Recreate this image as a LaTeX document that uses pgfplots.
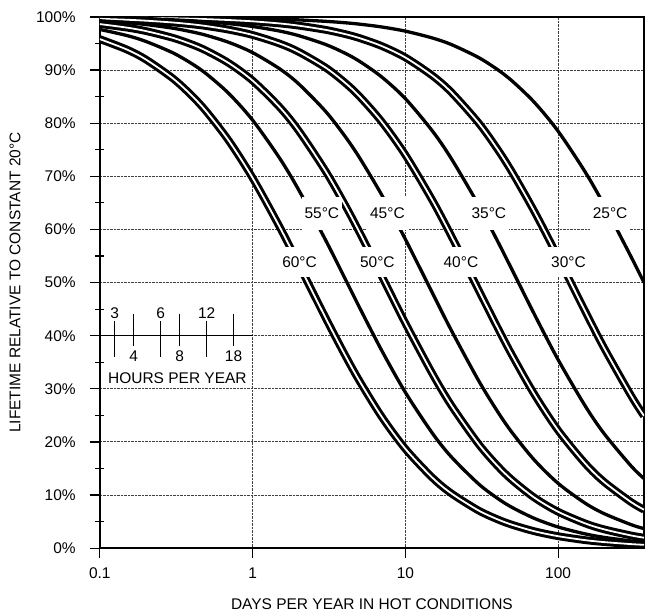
\documentclass[border=0pt]{standalone}
\usepackage{fontspec}
\setmainfont{Liberation Sans}
\usepackage{pgfplots}
\usepackage{pgfplotstable}
\pgfplotsset{compat=1.18}

\pgfplotstableread{
x     t25   t30   t35   t40   t45   t50   t55   t60
0.1   99.97 99.92 99.82 99.65 99.29 98.66 97.65 95.83
0.15  99.96 99.88 99.73 99.48 98.93 98.00 96.51 93.88
0.2   99.95 99.83 99.64 99.30 98.58 97.35 95.40 92.00
0.3   99.92 99.75 99.46 98.96 97.89 96.08 93.26 88.46
0.4   99.89 99.67 99.28 98.62 97.20 94.84 91.21 85.19
0.5   99.86 99.59 99.10 98.28 96.53 93.63 89.25 82.14
0.7   99.81 99.42 98.74 97.60 95.21 91.30 85.57 76.67
1     99.73 99.18 98.21 96.61 93.29 88.02 80.58 69.70
1.5   99.59 98.78 97.35 95.00 90.26 83.05 73.45 60.53
2     99.45 98.37 96.49 93.44 87.42 78.61 67.48 53.49
3     99.18 97.58 94.83 90.48 82.25 71.01 58.04 43.40
4     98.92 96.80 93.22 87.69 77.65 64.76 50.92 36.51
5     98.65 96.03 91.67 85.07 73.55 59.51 45.36 31.51
7     98.12 94.53 88.71 80.28 66.51 51.22 37.22 24.73
10    97.33 92.37 84.62 74.03 58.16 42.36 29.33 18.70
15    96.05 88.97 78.57 65.52 48.10 32.89 21.67 13.29
20    94.81 85.82 73.33 58.76 41.00 26.87 17.18 10.31
30    92.40 80.13 64.71 48.72 31.66 19.68 12.15 7.12
40    90.12 75.15 57.89 41.61 25.79 15.52 9.40  5.44
50    87.95 70.76 52.38 36.31 21.75 12.82 7.66  4.40
70    83.91 63.35 44.00 28.93 16.57 9.50  5.60  3.18
100   78.49 54.75 35.48 22.18 12.20 6.85  3.98  2.25
150   70.87 44.65 26.83 15.97 8.48  4.67  2.69  1.51
200   64.60 37.69 21.57 12.47 6.50  3.54  2.03  1.14
300   54.88 28.74 15.49 8.68  4.43  2.39  1.36  0.76
365   50.00 24.90 13.10 7.24  3.67  1.97  1.12  0.63
}\data

\begin{document}
\fontsize{15.5}{18}\selectfont
\begin{tikzpicture}
\useasboundingbox (-100pt,-66pt) rectangle (546pt,549pt);
\begin{axis}[
  xmode=log, log basis x=10,
  scale only axis, width=545pt, height=532pt,
  xmin=0.1, xmax=365, ymin=0, ymax=100,
  xtick={0.1,1,10,100}, xticklabels={0.1,1,10,100},
  ytick={0,10,...,100},
  yticklabels={0\%,10\%,20\%,30\%,40\%,50\%,60\%,70\%,80\%,90\%,100\%},
  minor ytick={5,15,...,95},
  /pgf/number format/assume math mode=true,
  tick pos=left, tick align=outside,
  major tick length=10pt, minor tick length=9pt,
  tick style={black, line width=1.2pt},
  minor x tick style={yshift=4.5pt},
  minor y tick style={xshift=4.5pt},
  axis line style={line width=1.4pt},
  xmajorgrids, ymajorgrids,
  grid style={densely dotted, line width=0.9pt, black!75},
  xlabel={DAYS PER YEAR IN HOT CONDITIONS},
  ylabel={LIFETIME RELATIVE TO CONSTANT 20°C},
  xlabel style={at={(axis description cs:0.5,-0.1062)}, anchor=center},
  ylabel style={at={(axis description cs:-0.156,0.5)}, anchor=center},
  xticklabel style={yshift=-4pt},
  yticklabel style={xshift=-8.8pt},
  single/.style={black, line width=3.3pt, smooth},
  dbl/.style={black, line width=3pt, double=white, double distance=1.8pt, smooth},
  hr/.style={black, line width=1.3pt},
]
\addplot[single] table[x=x,y=t25] {\data};
\addplot[dbl]    table[x=x,y=t30] {\data};
\addplot[single] table[x=x,y=t35] {\data};
\addplot[dbl]    table[x=x,y=t40] {\data};
\addplot[single] table[x=x,y=t45] {\data};
\addplot[dbl]    table[x=x,y=t50] {\data};
\addplot[single] table[x=x,y=t55] {\data};
\addplot[dbl]    table[x=x,y=t60] {\data};

% hours-per-year scale
\addplot[hr] coordinates {(0.1,40) (1,40)};
\addplot[hr] coordinates {(0.125,42.67) (0.125,35.98)};
\addplot[hr] coordinates {(0.16667,44.17) (0.16667,37.97)};
\addplot[hr] coordinates {(0.25,42.67) (0.25,35.98)};
\addplot[hr] coordinates {(0.33333,44.17) (0.33333,37.97)};
\addplot[hr] coordinates {(0.5,42.67) (0.5,35.98)};
\addplot[hr] coordinates {(0.75,44.17) (0.75,37.97)};
\node at (axis cs:0.125,44.2) {3};
\node at (axis cs:0.16667,36.1) {4};
\node at (axis cs:0.25,44.2) {6};
\node at (axis cs:0.33333,36.1) {8};
\node at (axis cs:0.5,44.2) {12};
\node at (axis cs:0.75,36.1) {18};
\node at (axis cs:0.322,32.0) {HOURS PER YEAR};

% curve labels
\tikzset{lab/.style={fill=white, inner xsep=3pt, inner ysep=0pt, text height=11.3pt, text depth=0pt}}
\node[lab, minimum height=33pt] at (axis cs:2.84,63.06) {55°C};
\node[lab, minimum height=33pt] at (axis cs:7.63,63.06) {45°C};
\node[lab, minimum height=33pt] at (axis cs:35.2,63.06) {35°C};
\node[lab, minimum height=33pt] at (axis cs:219,63.06) {25°C};
\node[lab, minimum height=30pt] at (axis cs:2.03,53.95) {60°C};
\node[lab, minimum height=30pt] at (axis cs:6.56,53.95) {50°C};
\node[lab, minimum height=30pt] at (axis cs:23.1,53.95) {40°C};
\node[lab, minimum height=30pt] at (axis cs:117,53.95) {30°C};
\end{axis}
\end{tikzpicture}
\end{document}
